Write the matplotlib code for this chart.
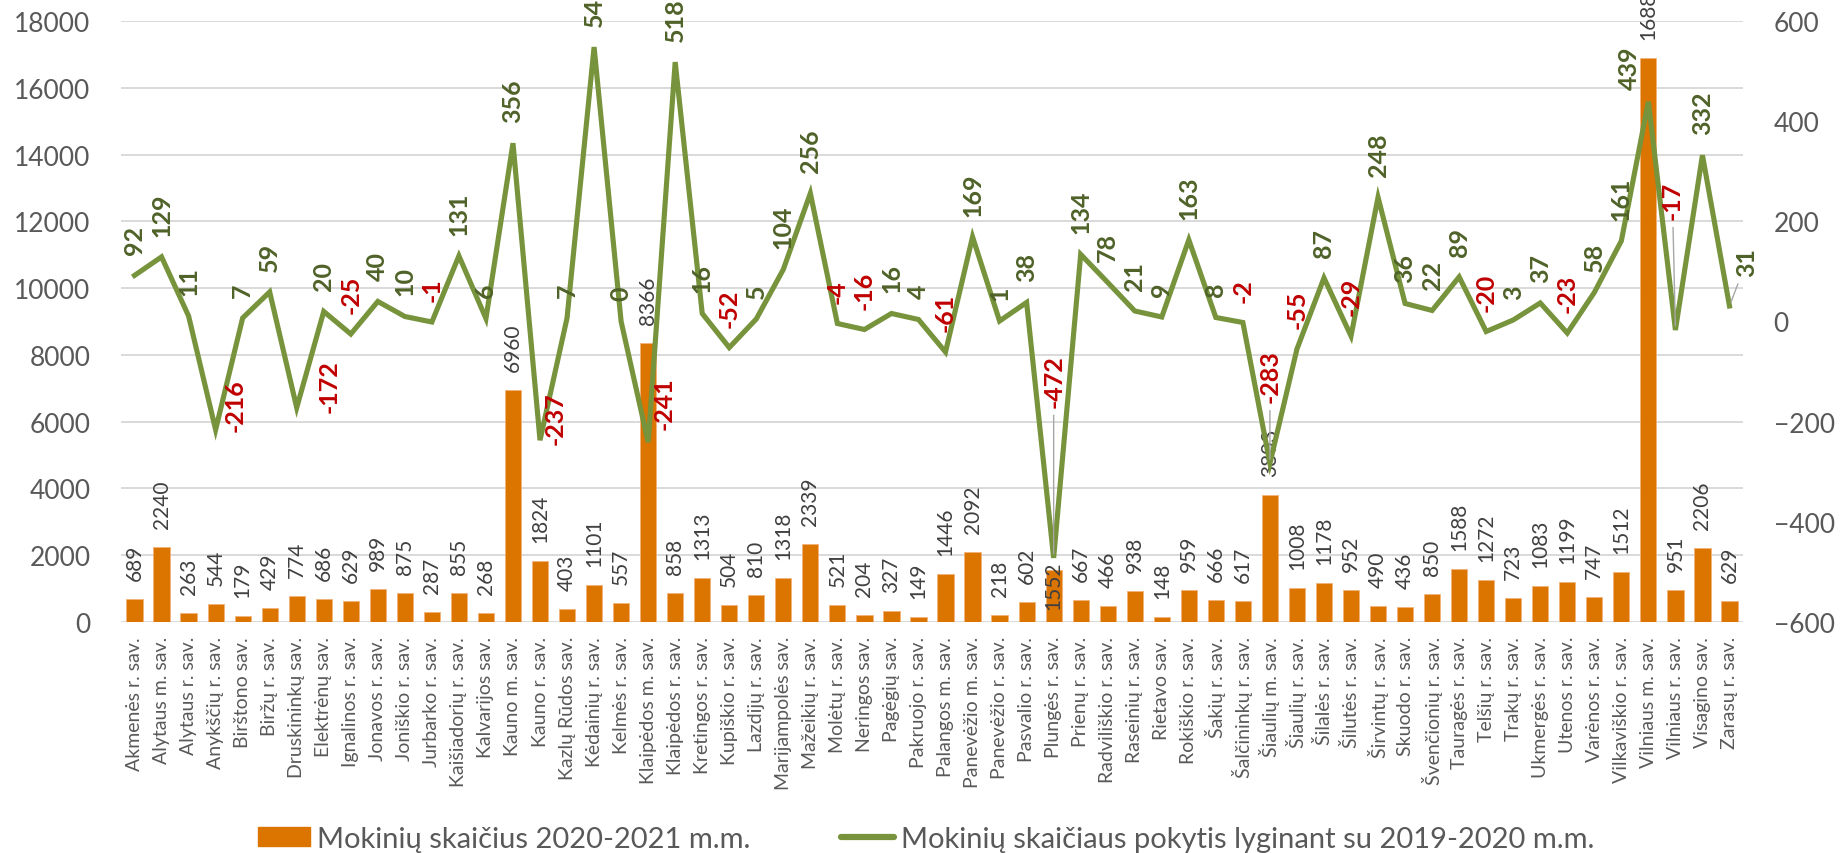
import numpy as np
import matplotlib
matplotlib.use("Agg")
import matplotlib.pyplot as plt
from matplotlib.patches import Patch
from matplotlib.lines import Line2D

municipalities = [
    "Akmenės r. sav.", "Alytaus m. sav.", "Alytaus r. sav.", "Anykščių r. sav.", "Birštono sav.",
    "Biržų r. sav.", "Druskininkų sav.", "Elektrėnų sav.", "Ignalinos r. sav.", "Jonavos r. sav.",
    "Joniškio r. sav.", "Jurbarko r. sav.", "Kaišiadorių r. sav.", "Kalvarijos sav.", "Kauno m. sav.",
    "Kauno r. sav.", "Kazlų Rūdos sav.", "Kėdainių r. sav.", "Kelmės r. sav.", "Klaipėdos m. sav.",
    "Klaipėdos r. sav.", "Kretingos r. sav.", "Kupiškio r. sav.", "Lazdijų r. sav.", "Marijampolės sav.",
    "Mažeikių r. sav.", "Molėtų r. sav.", "Neringos sav.", "Pagėgių sav.", "Pakruojo r. sav.",
    "Palangos m. sav.", "Panevėžio m. sav.", "Panevėžio r. sav.", "Pasvalio r. sav.", "Plungės r. sav.",
    "Prienų r. sav.", "Radviliškio r. sav.", "Raseinių r. sav.", "Rietavo sav.", "Rokiškio r. sav.",
    "Šakių r. sav.", "Šalčininkų r. sav.", "Šiaulių m. sav.", "Šiaulių r. sav.", "Šilalės r. sav.",
    "Šilutės r. sav.", "Širvintų r. sav.", "Skuodo r. sav.", "Švenčionių r. sav.", "Tauragės r. sav.",
    "Telšių r. sav.", "Trakų r. sav.", "Ukmergės r. sav.", "Utenos r. sav.", "Varėnos r. sav.",
    "Vilkaviškio r. sav.", "Vilniaus m. sav.", "Vilniaus r. sav.", "Visagino sav.", "Zarasų r. sav.",
]

students = [
    689, 2240, 263, 544, 179, 429, 774, 686, 629, 989,
    875, 287, 855, 268, 6960, 1824, 403, 1101, 557, 8366,
    858, 1313, 504, 810, 1318, 2339, 521, 204, 327, 149,
    1446, 2092, 218, 602, 1552, 667, 466, 938, 148, 959,
    666, 617, 3803, 1008, 1178, 952, 490, 436, 850, 1588,
    1272, 723, 1083, 1199, 747, 1512, 16880, 951, 2206, 629,
]

change = [
    92, 129, 11, -216, 7, 59, -172, 20, -25, 40,
    10, -1, 131, 6, 356, -237, 7, 548, 0, -241,
    518, 16, -52, 5, 104, 256, -4, -16, 16, 4,
    -61, 169, 1, 38, -472, 134, 78, 21, 9, 163,
    8, -2, -283, -55, 87, -29, 248, 36, 22, 89,
    -20, 3, 37, -23, 58, 161, 439, -17, 332, 31,
]

legend_labels = ["Mokinių skaičius 2020-2021 m.m.",
                 "Mokinių skaičiaus pokytis lyginant su 2019-2020 m.m."]

BAR = "#DC7400"
LINE = "#77933C"
POS = "#4F6228"
NEG = "#C00000"
GRID = "#D9D9D9"
TXT = "#595959"

plt.rcParams["font.family"] = ["Lato", "DejaVu Sans"]

W, H = 1841, 854
fig = plt.figure(figsize=(W / 100, H / 100), dpi=100)
ax = fig.add_axes([121 / W, 1 - 623 / H, 1622 / W, 601 / H])
ax2 = ax.twinx()

x = np.arange(len(municipalities))
ax.bar(x, students, width=0.6, color=BAR, edgecolor="#F2B27A", linewidth=0.6, zorder=2)
ax.set_xlim(-0.5, len(municipalities) - 0.5)
ax.set_ylim(0, 18000)
ax.set_yticks(range(0, 18001, 2000))
ax.grid(axis="y", color=GRID, lw=1.4, zorder=0)
ax.set_axisbelow(True)
ax.set_xticks(x)
ax.set_xticklabels(municipalities, rotation=90, fontsize=14, color=TXT)
ax.tick_params(axis="x", length=0, pad=10)
ax.tick_params(axis="y", length=0, pad=22, labelsize=19, labelcolor=TXT)

ax2.plot(x, change, color=LINE, lw=3.7, solid_joinstyle="miter", zorder=3)
ax2.set_ylim(-600, 600)
ax2.set_yticks(range(-600, 601, 200))
ax2.tick_params(axis="y", length=0, pad=22, labelsize=19, labelcolor=TXT)

for a in (ax, ax2):
    for s in a.spines.values():
        s.set_visible(False)

# bar value labels
for i, v in enumerate(students):
    dy = -39 if i == 34 else 19
    ax.annotate(str(v), (i, v), xytext=(0, dy), textcoords="offset pixels",
                rotation=90, ha="center", va="bottom", fontsize=15, color="#404040",
                annotation_clip=False, zorder=4)

# line value labels (pixel offsets of label bottom from point)
special = {3: (20, -1), 6: (32, -4), 15: (15, -4), 19: (16, 13),
           34: (0, 151), 42: (0, 61), 56: (-19, 13), 57: (-3, 111), 59: (17, 30)}
leaders = {34, 42, 57, 59}
for i, v in enumerate(change):
    dx, dy = special.get(i, (0, 21))
    kw = {}
    if i in leaders:
        kw["arrowprops"] = dict(arrowstyle="-", color="#A6A6A6", lw=1.0, shrinkA=4, shrinkB=3)
    ax2.annotate(str(v), (i, v), xytext=(dx, dy), textcoords="offset pixels",
                 rotation=90, ha="center", va="bottom", fontsize=18, fontweight="bold",
                 color=POS if v >= 0 else NEG, annotation_clip=False, zorder=5, **kw)

handles = [Patch(facecolor=BAR, edgecolor=BAR),
           Line2D([], [], color=LINE, lw=4.5, solid_capstyle="round")]
fig.legend(handles, legend_labels, loc="center", bbox_to_anchor=(926 / W, 1 - 840 / H),
           ncol=2, frameon=False, fontsize=21, handlelength=1.8, handleheight=0.62,
           handletextpad=0.25, columnspacing=3.1, labelcolor=TXT, borderpad=0)

fig.savefig("out.png", dpi=100)
